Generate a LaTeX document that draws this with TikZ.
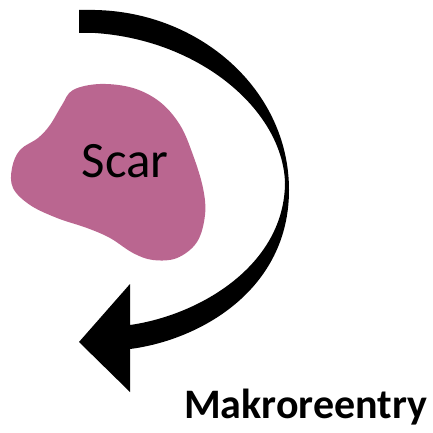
\documentclass[tikz,border=0pt]{standalone}
\usepackage{fontspec}
\setmainfont{Carlito}
\usetikzlibrary{positioning}
\definecolor{scarPink}{HTML}{BA6690}

\begin{document}
\begin{tikzpicture}[x=1pt, y=-1pt,
    blobStyle/.style={fill=scarPink, draw=none},
    arrowStyle/.style={fill=black, draw=none},
    scarText/.style={font=\fontsize{51}{56}\selectfont, inner sep=0pt, anchor=base},
    labelText/.style={font=\fontsize{42}{46}\selectfont\bfseries, inner sep=0pt, anchor=base west}
]
    \useasboundingbox (0,0) rectangle (432,433);
    % scar blob
    \path[blobStyle] plot[smooth cycle, tension=0.6] coordinates {
        (100,84) (73,90) (62,105) (50,125) (38,138) (20,150) (12,168) (13,188)
        (30,205) (57,218) (87,228) (110,238) (133,253) (153,260) (177,258)
        (197,242) (205,215) (203,188) (193,155) (180,125) (160,102) (133,88)};
    \node[scarText] (scar) at (125,177) {Scar};

    % curved arrow
    \path[arrowStyle] (79,10) -- (95,10)
        .. controls (200,12) and (289,90) .. (289,190)
        .. controls (289,290) and (200,340) .. (130,349)
        -- (130,392) -- (79,342) -- (130,284) -- (130,325)
        .. controls (200,315) and (285,265) .. (285,182)
        .. controls (282,110) and (200,40) .. (95,33)
        -- (79,33) -- cycle;

    \node[labelText] (macro) at (184,418) {Makroreentry};
\end{tikzpicture}
\end{document}
